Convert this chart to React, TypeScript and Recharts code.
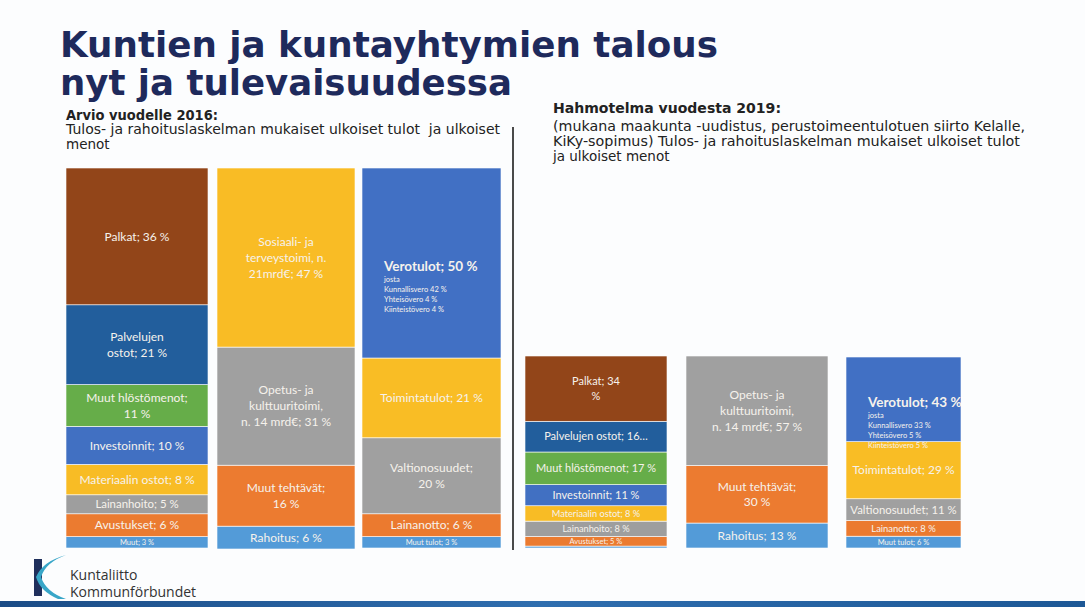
import React from 'react'
import { BarChart, Bar, XAxis, YAxis } from 'recharts'

// Arvio vuodelle 2016
const menot2016Names = ['Palkat', 'Palvelujen ostot', 'Muut hlöstömenot', 'Investoinnit', 'Materiaalin ostot', 'Lainanhoito', 'Avustukset', 'Muut']
const menot2016Values = [36, 21, 11, 10, 8, 5, 6, 3]
const menot2016Labels = ['Palkat; 36 %', 'Palvelujen\nostot; 21 %', 'Muut hlöstömenot;\n11 %', 'Investoinnit; 10 %', 'Materiaalin ostot; 8 %', 'Lainanhoito; 5 %', 'Avustukset; 6 %', 'Muut; 3 %']

const tehtavat2016Names = ['Sosiaali- ja terveystoimi', 'Opetus- ja kulttuuritoimi', 'Muut tehtävät', 'Rahoitus']
const tehtavat2016Values = [47, 31, 16, 6]
const tehtavat2016Labels = ['Sosiaali- ja\nterveystoimi, n.\n21mrd€; 47 %', 'Opetus- ja\nkulttuuritoimi,\nn. 14 mrd€; 31 %', 'Muut tehtävät;\n16 %', 'Rahoitus; 6 %']

const tulot2016Names = ['Verotulot', 'Toimintatulot', 'Valtionosuudet', 'Lainanotto', 'Muut tulot']
const tulot2016Values = [50, 21, 20, 6, 3]
const tulot2016Labels = ['Verotulot; 50 %', 'Toimintatulot; 21 %', 'Valtionosuudet;\n20 %', 'Lainanotto; 6 %', 'Muut tulot; 3 %']
const verot2016Detail = ['josta', 'Kunnallisvero 42 %', 'Yhteisövero 4 %', 'Kiinteistövero 4 %']

// Hahmotelma vuodesta 2019
const menot2019Names = ['Palkat', 'Palvelujen ostot', 'Muut hlöstömenot', 'Investoinnit', 'Materiaalin ostot', 'Lainanhoito', 'Avustukset', 'Muut']
const menot2019Values = [34, 16, 17, 11, 8, 8, 5, 1]
const menot2019Labels = ['Palkat; 34\n%', 'Palvelujen ostot; 16…', 'Muut hlöstömenot; 17 %', 'Investoinnit; 11 %', 'Materiaalin ostot; 8 %', 'Lainanhoito; 8 %', 'Avustukset; 5 %', '']

const tehtavat2019Names = ['Opetus- ja kulttuuritoimi', 'Muut tehtävät', 'Rahoitus']
const tehtavat2019Values = [57, 30, 13]
const tehtavat2019Labels = ['Opetus- ja\nkulttuuritoimi,\nn. 14 mrd€; 57 %', 'Muut tehtävät;\n30 %', 'Rahoitus; 13 %']

const tulot2019Names = ['Verotulot', 'Toimintatulot', 'Valtionosuudet', 'Lainanotto', 'Muut tulot']
const tulot2019Values = [43, 29, 11, 8, 6]
const tulot2019Labels = ['Verotulot; 43 %', 'Toimintatulot; 29 %', 'Valtionosuudet; 11 %', 'Lainanotto; 8 %', 'Muut tulot; 6 %']
const verot2019Detail = ['josta', 'Kunnallisvero 33 %', 'Yhteisövero 5 %', 'Kiinteistövero 5 %']

const segColors: Record<string, string> = {
  Palkat: '#924519',
  'Palvelujen ostot': '#225E9C',
  'Muut hlöstömenot': '#66AD49',
  Investoinnit: '#4170C2',
  'Materiaalin ostot': '#F8BC25',
  Lainanhoito: '#9E9E9E',
  Avustukset: '#EB7B30',
  Muut: '#529AD7',
  'Sosiaali- ja terveystoimi': '#F9BC25',
  'Opetus- ja kulttuuritoimi': '#A0A0A0',
  'Muut tehtävät': '#EC7B30',
  Rahoitus: '#539BD8',
  Verotulot: '#4170C4',
  Toimintatulot: '#F9BD25',
  Valtionosuudet: '#A0A0A0',
  Lainanotto: '#EB7A2F',
  'Muut tulot': '#529AD8'
}

const labelFont = 'Lato, "Open Sans", sans-serif'
const slideFont = '"DejaVu Sans", Verdana, sans-serif'

function renderSegment(p: any, label: string, base: number, detail?: string[]) {
  const { x, y, width, height, fill } = p
  if (!width || !height) return <g />
  const cx = x + width / 2
  const cy = y + height / 2
  let text: React.ReactNode = null
  if (detail) {
    text = (
      <g fill='#F6F2EC' fontFamily={labelFont}>
        <text x={x + 22} y={cy + 8} fontSize={13.5} fontWeight={700}>{label}</text>
        {detail.map((d, i) => (
          <text key={i} x={x + 22} y={cy + 19 + i * 10} fontSize={7.5}>{d}</text>
        ))}
      </g>
    )
  } else if (label) {
    const lines = label.split('\n')
    const longest = Math.max(...lines.map((l) => l.length))
    const fs = Math.max(7.5, Math.min(base, height * 0.6, (width - 6) / (longest * 0.48)))
    const lh = fs * 1.32
    const top = cy - ((lines.length - 1) * lh) / 2 + fs * 0.35
    text = (
      <text fill='#F6F2EC' fontFamily={labelFont} fontSize={fs} textAnchor='middle'>
        {lines.map((l, i) => (
          <tspan key={i} x={cx} y={top + i * lh}>{l}</tspan>
        ))}
      </text>
    )
  }
  return (
    <g>
      <rect x={x} y={y} width={width} height={height} fill={fill} stroke='#ffffff' strokeWidth={0.6} />
      {text}
    </g>
  )
}

type ColumnProps = {
  id: string
  names: string[]
  values: number[]
  labels: string[]
  detail?: string[]
  left: number
  top: number
  width: number
  height: number
  base: number
}

function StackColumn({ id, names, values, labels, detail, left, top, width, height, base }: ColumnProps) {
  const row: Record<string, string | number> = { col: id }
  names.forEach((n, i) => {
    row['s' + i] = values[i]
  })
  // first segment in the lists is the top of the column, recharts stacks from the bottom
  const order = names.map((_, i) => i).reverse()
  return (
    <div style={{ position: 'absolute', left, top }}>
      <BarChart
        width={width}
        height={height}
        data={[row]}
        stackOffset='expand'
        barCategoryGap={0}
        margin={{ top: 0, right: 0, bottom: 0, left: 0 }}
      >
        <XAxis dataKey='col' hide />
        <YAxis hide domain={[0, 1]} />
        {order.map((i) => (
          <Bar
            key={i}
            dataKey={'s' + i}
            name={names[i]}
            stackId='a'
            fill={segColors[names[i]]}
            isAnimationActive={false}
            shape={(p: any) => renderSegment(p, labels[i], base, i === 0 ? detail : undefined)}
          />
        ))}
      </BarChart>
    </div>
  )
}

export default function App() {
  return (
    <div style={{ position: 'absolute', left: 0, top: 0, width: 1085, height: 607, background: '#FCFDFE', overflow: 'hidden' }}>
      <svg width={1085} height={607} style={{ position: 'absolute', left: 0, top: 0 }}>
        <defs>
          <linearGradient id='strip' x1='0' x2='1' y1='0' y2='0'>
            <stop offset='0' stopColor='#1B4C86' />
            <stop offset='0.5' stopColor='#2F6EAF' />
            <stop offset='1' stopColor='#1D5896' />
          </linearGradient>
        </defs>
        <g fill='#1E2A5C' fontFamily={slideFont} fontWeight={700} fontSize={36}>
          <text x={60} y={57} textLength={658} lengthAdjust='spacingAndGlyphs'>Kuntien ja kuntayhtymien talous</text>
          <text x={60} y={95} textLength={452} lengthAdjust='spacingAndGlyphs'>nyt ja tulevaisuudessa</text>
        </g>
        <g fill='#222' fontFamily={slideFont} fontSize={13.5}>
          <text x={66} y={120} fontWeight={700} textLength={152} lengthAdjust='spacingAndGlyphs'>Arvio vuodelle 2016:</text>
          <text x={66} y={134} textLength={434} lengthAdjust='spacingAndGlyphs'>{'Tulos- ja rahoituslaskelman mukaiset ulkoiset tulot\u00a0 ja ulkoiset'}</text>
          <text x={66} y={149}>menot</text>
        </g>
        <g fill='#222' fontFamily={slideFont} fontSize={13.5}>
          <text x={553} y={113} fontWeight={700} textLength={228} lengthAdjust='spacingAndGlyphs'>Hahmotelma vuodesta 2019:</text>
          <text x={553} y={131} textLength={472} lengthAdjust='spacingAndGlyphs'>(mukana maakunta -uudistus, perustoimeentulotuen siirto Kelalle,</text>
          <text x={553} y={146} textLength={467} lengthAdjust='spacingAndGlyphs'>KiKy-sopimus) Tulos- ja rahoituslaskelman mukaiset ulkoiset tulot</text>
          <text x={553} y={161}>ja ulkoiset menot</text>
        </g>
        <line x1={513} y1={127} x2={513} y2={550} stroke='#4A4A4A' strokeWidth={2} />
        <rect x={34} y={559} width={8} height={37} fill='#1F2F5C' />
        <path d='M66 555 Q46 562 41 577 Q46 592 66 599 L58 599 Q40 591 36 577 Q43 561 66 555 Z' fill='#38A6C8' />
        <g fill='#333' fontFamily='"Open Sans", sans-serif' fontSize={14}>
          <text x={70} y={580}>Kuntaliitto</text>
          <text x={70} y={597}>Kommunförbundet</text>
        </g>
        <rect x={0} y={601} width={1085} height={6} fill='url(#strip)' />
      </svg>

      <StackColumn id='Menot 2016' names={menot2016Names} values={menot2016Values} labels={menot2016Labels} left={66} top={168} width={142} height={380} base={12} />
      <StackColumn id='Tehtävät 2016' names={tehtavat2016Names} values={tehtavat2016Values} labels={tehtavat2016Labels} left={217} top={168} width={138} height={381} base={12} />
      <StackColumn id='Tulot 2016' names={tulot2016Names} values={tulot2016Values} labels={tulot2016Labels} detail={verot2016Detail} left={362} top={168} width={139} height={380} base={12} />

      <StackColumn id='Menot 2019' names={menot2019Names} values={menot2019Values} labels={menot2019Labels} left={525} top={356} width={142} height={192} base={11} />
      <StackColumn id='Tehtävät 2019' names={tehtavat2019Names} values={tehtavat2019Values} labels={tehtavat2019Labels} left={686} top={356} width={142} height={192} base={12} />
      <StackColumn id='Tulot 2019' names={tulot2019Names} values={tulot2019Values} labels={tulot2019Labels} detail={verot2019Detail} left={846} top={357} width={115} height={191} base={13.5} />
    </div>
  )
}
